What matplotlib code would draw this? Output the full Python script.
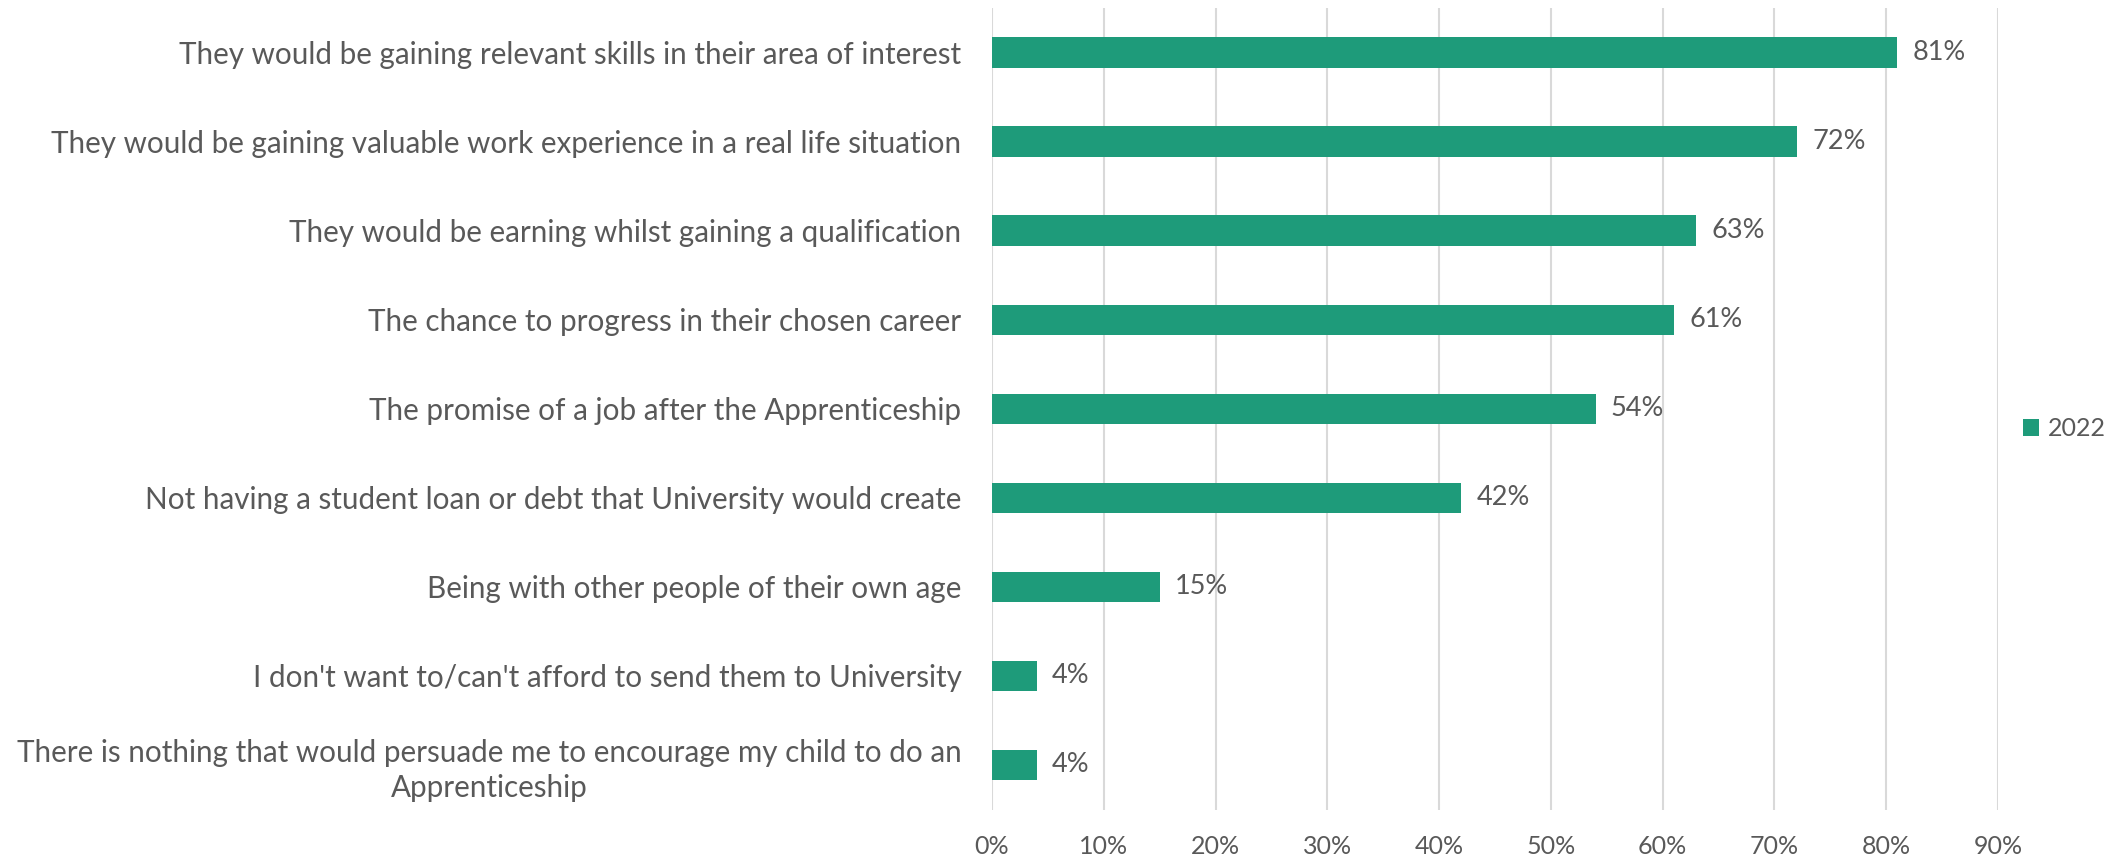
import matplotlib
matplotlib.use("Agg")
import matplotlib.pyplot as plt
from matplotlib.patches import Patch
from matplotlib.ticker import MultipleLocator, PercentFormatter

categories = [
    "They would be gaining relevant skills in their area of interest",
    "They would be gaining valuable work experience in a real life situation",
    "They would be earning whilst gaining a qualification",
    "The chance to progress in their chosen career",
    "The promise of a job after the Apprenticeship",
    "Not having a student loan or debt that University would create",
    "Being with other people of their own age",
    "I don't want to/can't afford to send them to University",
    "There is nothing that would persuade me to encourage my child to do an\nApprenticeship",
]
values_2022 = [81, 72, 63, 61, 54, 42, 15, 4, 4]
series_name = "2022"

BAR_COLOR = "#1E9B7A"
TEXT_COLOR = "#595959"
GRID_COLOR = "#D9D9D9"

plt.rcParams["font.family"] = ["Lato", "DejaVu Sans"]

fig = plt.figure(figsize=(21.11, 8.56), dpi=100)
ax = fig.add_axes([992 / 2111, 1 - 809.5 / 856, (1998 - 992) / 2111, (809.5 - 8) / 856])

y = list(range(len(categories)))
bars = ax.barh(y, values_2022, height=0.34, color=BAR_COLOR, zorder=3)
for rect, v in zip(bars, values_2022):
    ax.annotate(f"{v}%", (rect.get_width(), rect.get_y() + rect.get_height() / 2),
                xytext=(11, 0), textcoords="offset points", va="center", ha="left",
                fontsize=19.5, color=TEXT_COLOR)

ax.set_xlim(0, 90)
ax.set_ylim(len(categories) - 0.5, -0.5)
ax.xaxis.set_major_locator(MultipleLocator(10))
ax.xaxis.set_major_formatter(PercentFormatter(decimals=0))
ax.set_yticks(y)
ax.set_yticklabels(categories, multialignment="center", linespacing=1.3)
ax.tick_params(axis="y", length=0, pad=22, labelsize=21.3, labelcolor=TEXT_COLOR)
ax.tick_params(axis="x", length=0, pad=18, labelsize=18, labelcolor=TEXT_COLOR)
ax.grid(axis="x", color=GRID_COLOR, linewidth=1.5, zorder=0)
for side in ("top", "right", "bottom", "left"):
    ax.spines[side].set_visible(False)

handle = Patch(facecolor=BAR_COLOR, label=series_name)
fig.legend(handles=[handle], loc="center left", bbox_to_anchor=(2010 / 2111, 1 - 429 / 856),
           frameon=False, fontsize=18, labelcolor=TEXT_COLOR, handlelength=0.65,
           handleheight=0.65, handletextpad=0.35, borderpad=0)

fig.savefig("out.png", dpi=100)
